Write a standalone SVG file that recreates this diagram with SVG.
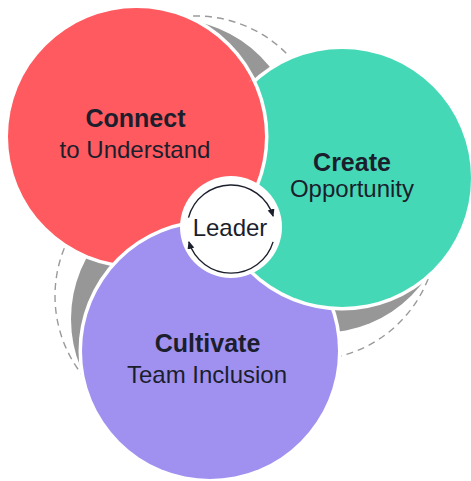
<svg xmlns="http://www.w3.org/2000/svg" xmlns:xlink="http://www.w3.org/1999/xlink" width="471" height="481" viewBox="0 0 471 481">
<style>
.dash{fill:none;stroke:#9a9a9a;stroke-width:1.4;stroke-dasharray:7 5}
.shadow{fill:#979797}
.disc{stroke:#ffffff;stroke-width:7;paint-order:stroke}
.title{font-family:"Liberation Sans",Arial,Helvetica,sans-serif;font-weight:bold;font-size:25px;fill:#1b1e2c;text-anchor:middle}
.sub{font-family:"Liberation Sans",Arial,Helvetica,sans-serif;font-size:24px;fill:#1b1e2c;text-anchor:middle}
.arc{fill:none;stroke:#1b1e2c;stroke-width:1.4}
</style>
<defs>
<marker id="ah" markerUnits="userSpaceOnUse" markerWidth="9" markerHeight="8" refX="7" refY="3.5" orient="auto">
<path d="M0,0 L8,3.5 L0,7 z" fill="#1b1e2c"/>
</marker>
<clipPath id="clip-green"><circle cx="342" cy="178" r="134"/></clipPath>
</defs>
<rect width="471" height="481" fill="#ffffff"/>
<g id="orbits">
<circle class="dash" cx="196" cy="144" r="128"/>
<circle class="dash" cx="309" cy="232" r="128"/>
<circle class="dash" cx="183" cy="296" r="128"/>
<circle class="shadow" cx="170" cy="147" r="128"/>
<circle class="shadow" cx="321" cy="205" r="128"/>
<circle class="shadow" cx="199" cy="319" r="128"/>
</g>
<g id="node-connect">
<circle id="c-red" class="disc" cx="136.5" cy="136.5" r="128.5" fill="#FE5A5F"/>
<text class="title" x="135.5" y="127">Connect</text>
<text class="sub" x="135" y="158">to Understand</text>
</g>
<g id="node-cultivate">
<circle class="disc" cx="210" cy="351" r="128" fill="#A091F0"/>
<text class="title" x="207.5" y="352">Cultivate</text>
<text class="sub" x="207" y="383">Team Inclusion</text>
</g>
<g id="node-create">
<circle class="disc" cx="342" cy="178" r="129" fill="#45D8B6"/>
<text class="title" x="352" y="171">Create</text>
<text class="sub" x="352" y="197">Opportunity</text>
</g>
<g id="node-connect-overlap">
<use xlink:href="#c-red" clip-path="url(#clip-green)"/>
</g>
<g id="node-leader">
<circle cx="231" cy="227" r="51" fill="#ffffff"/>
<text class="sub" x="230" y="236">Leader</text>
</g>
<g id="connectors">
<path class="arc" d="M188.5,217.6 A44,44 0 0 1 273.1,216.1" marker-end="url(#ah)"/>
<path class="arc" d="M273.1,241.9 A44,44 0 0 1 188.9,241.9" marker-end="url(#ah)"/>
</g>
</svg>
